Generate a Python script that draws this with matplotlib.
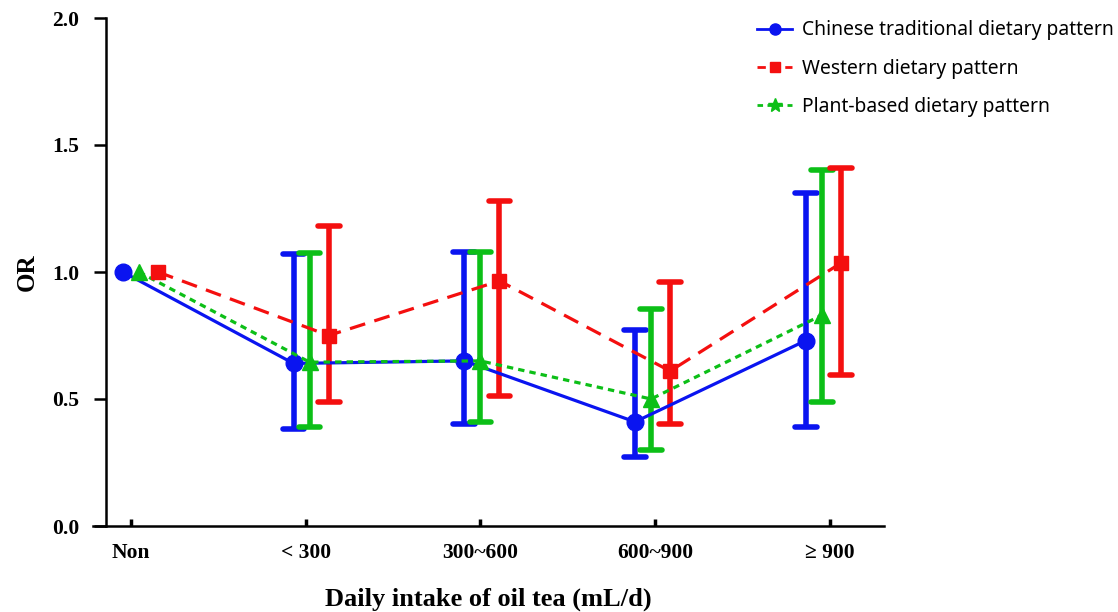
import numpy as np
import matplotlib.pyplot as plt
from matplotlib.lines import Line2D

# Datos
categories = ['Non', '< 300', '300~600', '600~900', '≥ 900']

blue_or = [1.00, 0.64, 0.65, 0.41, 0.73]
blue_lo = [1.00, 0.38, 0.40, 0.27, 0.39]
blue_hi = [1.00, 1.07, 1.08, 0.77, 1.31]

green_or = [1.00, 0.645, 0.65, 0.50, 0.83]
green_lo = [1.00, 0.39, 0.41, 0.30, 0.49]
green_hi = [1.00, 1.075, 1.08, 0.855, 1.40]

red_or = [1.00, 0.75, 0.965, 0.61, 1.035]
red_lo = [1.00, 0.49, 0.51, 0.40, 0.595]
red_hi = [1.00, 1.18, 1.28, 0.96, 1.41]

labels = ['Chinese traditional dietary pattern',
          'Western dietary pattern',
          'Plant-based dietary pattern']

serif = 'Liberation Serif'

fig = plt.figure(figsize=(11.18, 6.12), dpi=100)
ax = fig.add_axes([93 / 1118, 1 - 526 / 612, (884 - 93) / 1118, (526 - 18) / 612])

x = np.arange(len(categories))
series = [
    (blue_or, blue_lo, blue_hi, -0.046, '#0a14f0', '-', 'o', 12),
    (green_or, green_lo, green_hi, 0.046, '#0cbf17', (0, (2, 1.6)), '^', 11),
    (red_or, red_lo, red_hi, 0.155, '#f40f0f', (0, (5, 3)), 's', 10),
]
cap_w = 0.062
for vals, lo, hi, off, col, ls, mk, ms in series:
    xs = x * 0.977 + off
    lo = np.array(lo)[1:]
    hi = np.array(hi)[1:]
    ax.vlines(xs[1:], lo, hi, color=col, linewidth=4, zorder=3)
    ax.hlines(lo, xs[1:] - cap_w, xs[1:] + cap_w, color=col, linewidth=4,
              capstyle='round', zorder=3)
    ax.hlines(hi, xs[1:] - cap_w, xs[1:] + cap_w, color=col, linewidth=4,
              capstyle='round', zorder=3)
    ax.plot(xs, vals, color=col, linestyle=ls, linewidth=2.3,
            marker=mk, markersize=ms, zorder=4)

# Ejes
ax.set_xlim(-0.217, 4.31)
ax.set_ylim(0, 2.0)
ax.spines['top'].set_visible(False)
ax.spines['right'].set_visible(False)
ax.spines['left'].set_position(('axes', (106 - 93) / (884 - 93)))
ax.spines['left'].set_linewidth(1.8)
ax.spines['bottom'].set_linewidth(1.8)

ax.set_xticks(x)
ax.set_xticklabels(categories, fontfamily=serif, fontweight='bold', fontsize=15.5)
ax.tick_params(axis='x', direction='in', length=5, width=2.5, pad=12)
ax.set_yticks([0, 0.5, 1.0, 1.5, 2.0])
ax.set_yticklabels(['0.0', '0.5', '1.0', '1.5', '2.0'],
                   fontfamily=serif, fontweight='bold', fontsize=15.5)
ax.tick_params(axis='y', direction='out', length=9, width=1.8, pad=10)

ax.set_xlabel('Daily intake of oil tea (mL/d)', fontfamily=serif,
              fontweight='bold', fontsize=19, labelpad=18)
ax.set_ylabel('OR', fontfamily=serif, fontweight='bold', fontsize=18)
ax.yaxis.set_label_coords(-0.068, 0.5)

handles = [
    Line2D([], [], color='#0a14f0', linestyle='-', marker='o', markersize=8, linewidth=2),
    Line2D([], [], color='#f40f0f', linestyle=(0, (3, 2)), marker='s', markersize=7, linewidth=2),
    Line2D([], [], color='#0cbf17', linestyle=(0, (2, 1.6)), marker='*', markersize=10, linewidth=2),
]
fig.legend(handles, labels, loc='upper left', bbox_to_anchor=(740 / 1118, 1 - 3 / 612),
           frameon=False, prop={'family': 'Noto Sans', 'size': 13.9},
           handlelength=1.8, labelspacing=0.95, handletextpad=0.5)

fig.savefig('out.png', dpi=100)
